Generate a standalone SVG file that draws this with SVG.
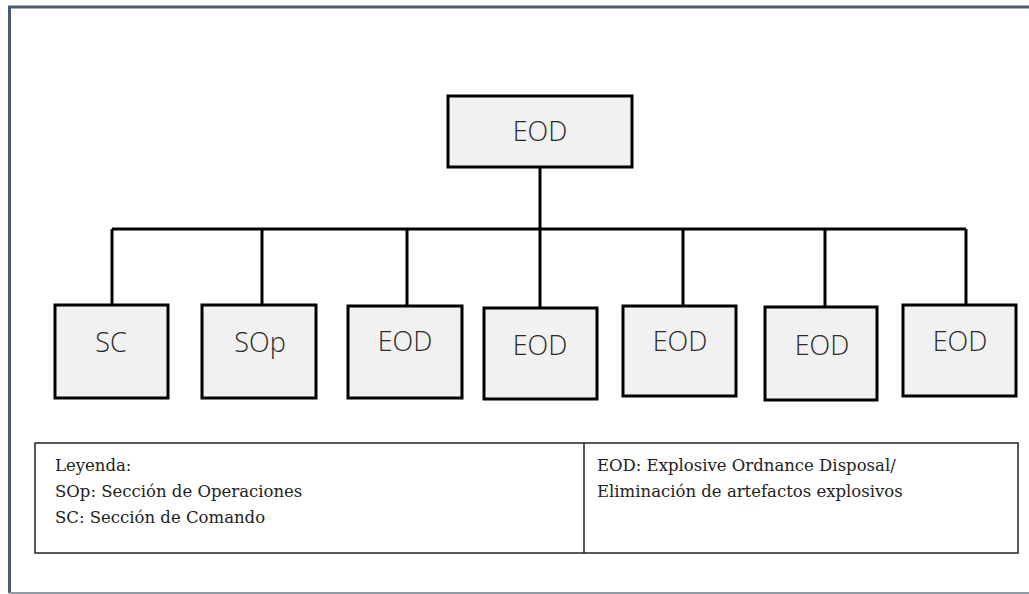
<svg xmlns="http://www.w3.org/2000/svg" width="1029" height="594" viewBox="0 0 1029 594">
  <style>
    .box { fill: #f1f1f1; stroke: #000; stroke-width: 3; }
    .lbl { font-family: "Open Sans", Lato, sans-serif; font-weight: 300; font-size: 27px; fill: #2a2a2a; text-anchor: middle; }
    .wire { fill: none; stroke: #000; stroke-width: 3; }
    .leg { fill: #fff; stroke: #222; stroke-width: 1.5; }
    .legtxt { font-family: "DejaVu Serif", serif; font-size: 16.5px; fill: #222; }
  </style>
  <!-- page frame -->
  <path d="M1040 7 H9.5 V593" fill="none" stroke="#4a5a70" stroke-width="3"/>
  <line x1="9" y1="593" x2="1029" y2="593" stroke="#8f9ba5" stroke-width="2"/>

  <!-- connectors -->
  <g id="connectors" class="wire">
    <line x1="540" y1="167" x2="540" y2="229"/>
    <line x1="112" y1="229" x2="966" y2="229"/>
    <line x1="112" y1="229" x2="112" y2="305"/>
    <line x1="262" y1="229" x2="262" y2="305"/>
    <line x1="407" y1="229" x2="407" y2="306"/>
    <line x1="540" y1="229" x2="540" y2="308"/>
    <line x1="683" y1="229" x2="683" y2="306"/>
    <line x1="825" y1="229" x2="825" y2="307"/>
    <line x1="966" y1="229" x2="966" y2="305"/>
  </g>

  <g id="root">
    <rect class="box" x="448" y="96" width="184" height="71"/>
    <text class="lbl" x="540" y="141">EOD</text>
  </g>
  <g id="sc">
    <rect class="box" x="55" y="305" width="113" height="93"/>
    <text class="lbl" x="111" y="352">SC</text>
  </g>
  <g id="sop">
    <rect class="box" x="202" y="305" width="114" height="93"/>
    <text class="lbl" x="260" y="352">SOp</text>
  </g>
  <g id="eod1">
    <rect class="box" x="348" y="306" width="114" height="92"/>
    <text class="lbl" x="405" y="351">EOD</text>
  </g>
  <g id="eod2">
    <rect class="box" x="484" y="308" width="113" height="91"/>
    <text class="lbl" x="540" y="355">EOD</text>
  </g>
  <g id="eod3">
    <rect class="box" x="623" y="306" width="113" height="90"/>
    <text class="lbl" x="680" y="351">EOD</text>
  </g>
  <g id="eod4">
    <rect class="box" x="765" y="307" width="112" height="93"/>
    <text class="lbl" x="822" y="355">EOD</text>
  </g>
  <g id="eod5">
    <rect class="box" x="903" y="305" width="113" height="91"/>
    <text class="lbl" x="960" y="351">EOD</text>
  </g>

  <!-- legend table -->
  <g id="legend">
    <rect class="leg" x="35" y="443" width="983" height="110"/>
    <line x1="584" y1="443" x2="584" y2="553" stroke="#222" stroke-width="1.5"/>
    <text class="legtxt" x="55" y="471">Leyenda:</text>
    <text class="legtxt" x="55" y="497">SOp: Sección de Operaciones</text>
    <text class="legtxt" x="55" y="523">SC: Sección de Comando</text>
    <text class="legtxt" x="597" y="471">EOD: Explosive Ordnance Disposal/</text>
    <text class="legtxt" x="597" y="497">Eliminación de artefactos explosivos</text>
  </g>
</svg>
